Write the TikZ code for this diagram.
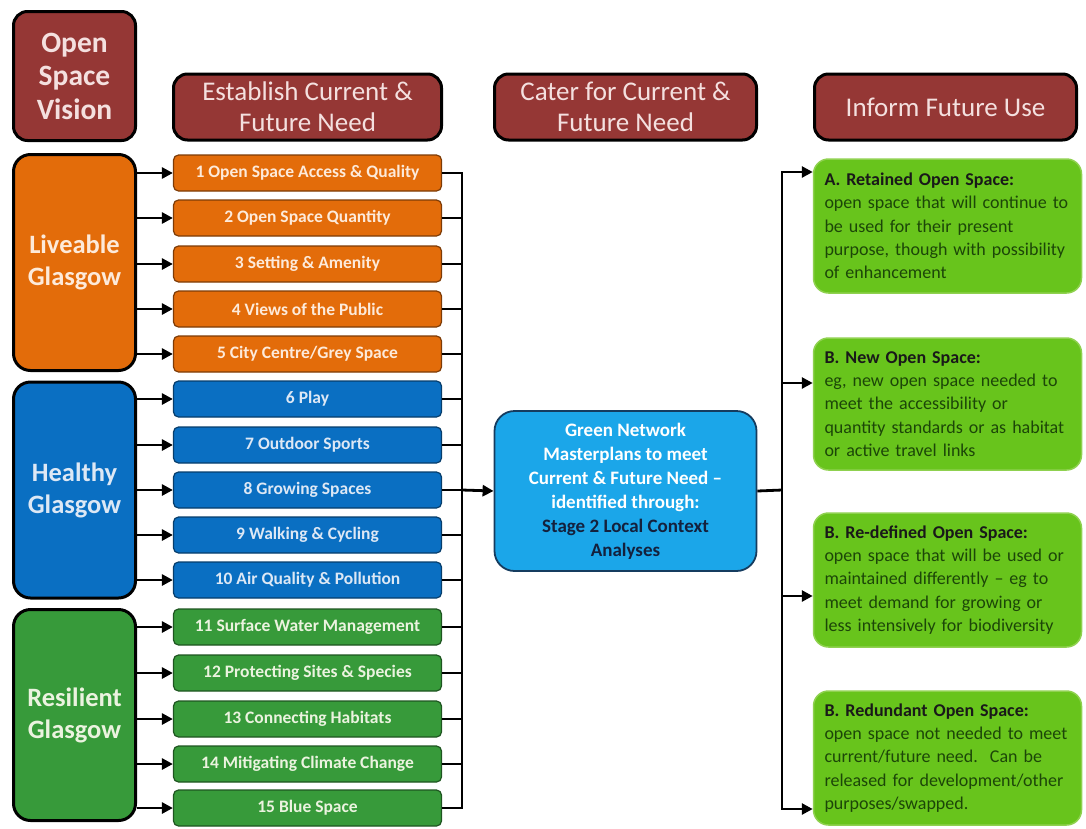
\documentclass[tikz,border=0pt]{standalone}
\usepackage{fontspec}
\setmainfont{Carlito}
\usetikzlibrary{arrows.meta,calc}
\definecolor{hdrred}{HTML}{953735}
\definecolor{hdrtxt}{HTML}{F4E0DF}
\definecolor{orng}{HTML}{E36C0A}
\definecolor{orngtxt}{HTML}{FDEADA}
\definecolor{blu}{HTML}{0A6FC2}
\definecolor{blutxt}{HTML}{DDE8F5}
\definecolor{grn}{HTML}{379A3A}
\definecolor{grntxt}{HTML}{EBF3DF}
\definecolor{ctrblue}{HTML}{1BA6E9}
\definecolor{ctrnavy}{HTML}{14213D}
\definecolor{lime}{HTML}{68C41C}
\definecolor{limeedge}{HTML}{8FD14F}
\definecolor{limetxt}{HTML}{1C4608}
\begin{document}
\begin{tikzpicture}[x=1pt,y=-1pt,
  hdr/.style={draw=black, line width=3pt, fill=hdrred, rounded corners=14pt,
    text=hdrtxt, align=center, inner sep=0pt, minimum height=66pt,
    font=\fontsize{27}{31}\selectfont},
  grp/.style={draw=black, line width=3pt, fill=#1, rounded corners=17pt,
    align=center, inner sep=0pt, minimum width=122pt,
    font=\bfseries\fontsize{26.5}{32}\selectfont},
  itm/.style={draw=#1!55!black, line width=1.2pt, fill=#1, rounded corners=5pt,
    minimum width=268pt, minimum height=36pt, inner sep=0pt,
    font=\bfseries\fontsize{17.5}{20}\selectfont},
  outb/.style={draw=limeedge, line width=1.5pt, fill=lime, rounded corners=15pt,
    minimum width=268pt, text width=246pt, inner xsep=11pt, inner ysep=0pt,
    align=left, text=limetxt, font=\fontsize{18}{23.3}\selectfont},
  arr/.style={line width=2.8pt, -{Triangle[length=11pt,width=11pt]}},
  lnk/.style={line width=2.8pt}
]
\useasboundingbox (0,0) rectangle (1086,828);

% headers
\node[hdr, minimum width=122pt, minimum height=129pt, font=\bfseries\fontsize{29.5}{33.5}\selectfont] (hV) at (74.5,76) {Open\\Space\\Vision};
\node[hdr, minimum width=268pt] (hE) at (307.5,107) {Establish Current \&\\Future Need};
\node[hdr, minimum width=262pt] (hC) at (625.5,107) {Cater for Current \&\\Future Need};
\node[hdr, minimum width=262pt] (hI) at (945.5,107) {Inform Future Use};

% groups
\node[grp=orng, text=orngtxt, minimum height=216pt] (gL) at (74.5,262.5) {Liveable\\Glasgow};
\node[grp=blu, text=blutxt, minimum height=216pt] (gH) at (74.5,490) {Healthy\\Glasgow};
\node[grp=grn, text=grntxt, minimum height=211pt] (gR) at (74.5,715) {Resilient\\Glasgow};

% items
\node[itm=orng, text=orngtxt] (i1) at (307.5,173) {1 Open Space Access \& Quality};
\node[itm=orng, text=orngtxt] (i2) at (307.5,218) {2 Open Space Quantity};
\node[itm=orng, text=orngtxt] (i3) at (307.5,264) {3 Setting \& Amenity};
\node[itm=orng, text=orngtxt] (i4) at (307.5,309) {4 Views of the Public};
\node[itm=orng, text=orngtxt] (i5) at (307.5,354) {5 City Centre/Grey Space};
\node[itm=blu, text=blutxt] (i6) at (307.5,399) {6 Play};
\node[itm=blu, text=blutxt] (i7) at (307.5,445) {7 Outdoor Sports};
\node[itm=blu, text=blutxt] (i8) at (307.5,490) {8 Growing Spaces};
\node[itm=blu, text=blutxt] (i9) at (307.5,535) {9 Walking \& Cycling};
\node[itm=blu, text=blutxt] (i10) at (307.5,580) {10 Air Quality \& Pollution};
\node[itm=grn, text=grntxt] (i11) at (307.5,627) {11 Surface Water Management};
\node[itm=grn, text=grntxt] (i12) at (307.5,673) {12 Protecting Sites \& Species};
\node[itm=grn, text=grntxt] (i13) at (307.5,719) {13 Connecting Habitats};
\node[itm=grn, text=grntxt] (i14) at (307.5,764) {14 Mitigating Climate Change};
\node[itm=grn, text=grntxt] (i15) at (307.5,808) {15 Blue Space};

% centre
\node[draw=ctrnavy!80!ctrblue, line width=1.8pt, fill=ctrblue, rounded corners=20pt,
  minimum width=262pt, minimum height=160pt, align=center, text=white,
  font=\bfseries\fontsize{19}{24}\selectfont] (ctr) at (625.5,491)
  {Green Network\\Masterplans to meet\\Current \& Future Need --\\identified through:\\\textcolor{ctrnavy}{Stage 2 Local Context}\\\textcolor{ctrnavy}{Analyses}};

% outputs
\node[outb, minimum height=134pt] (oA) at (947.5,226)
  {\textbf{\textcolor{black!90}{A. Retained Open Space:}}\\open space that will continue to\\be used for their present\\purpose, though with possibility\\of enhancement};
\node[outb, minimum height=132pt] (oB) at (947.5,404)
  {\textbf{\textcolor{black!90}{B. New Open Space:}}\\eg, new open space needed to\\meet the accessibility or\\quantity standards or as habitat\\or active travel links};
\node[outb, minimum height=134pt] (oC) at (947.5,580)
  {\textbf{\textcolor{black!90}{B. Re-defined Open Space:}}\\open space that will be used or\\maintained differently -- eg to\\meet demand for growing or\\less intensively for biodiversity};
\node[outb, minimum height=134pt] (oD) at (947.5,758)
  {\textbf{\textcolor{black!90}{B. Redundant Open Space:}}\\open space not needed to meet\\current/future need.\ \ Can be\\released for development/other\\purposes/swapped.};

% left arrows
\foreach \g/\i in {gL/i1,gL/i2,gL/i3,gL/i4,gL/i5,gH/i6,gH/i7,gH/i8,gH/i9,gH/i10,gR/i11,gR/i12,gR/i13,gR/i14,gR/i15}
  \draw[arr] (\g.east |- \i.west) -- (\i.west);

% left bus
\coordinate (bx) at (462,490);
\foreach \i in {i1,i2,i3,i4,i5,i6,i7,i8,i9,i10,i11,i12,i13,i14,i15}
  \draw[lnk] (\i.east) -- (bx |- \i.east);
\draw[lnk, line cap=rect] (bx |- i1.east) -- (bx |- i15.east);
\draw[arr] (bx) -- (ctr.west);

% right bus
\coordinate (rx) at (782,490);
\coordinate (pA) at (oA.west |- 0,172);
\coordinate (pB) at (oB.west |- 0,383);
\coordinate (pC) at (oC.west |- 0,596);
\coordinate (pD) at (oD.west |- 0,809);
\draw[lnk] (ctr.east) -- (rx);
\draw[lnk, line cap=rect] (rx |- pA) -- (rx |- pD);
\foreach \p in {pA,pB,pC,pD}
  \draw[arr] (rx |- \p) -- (\p);
\end{tikzpicture}
\end{document}
